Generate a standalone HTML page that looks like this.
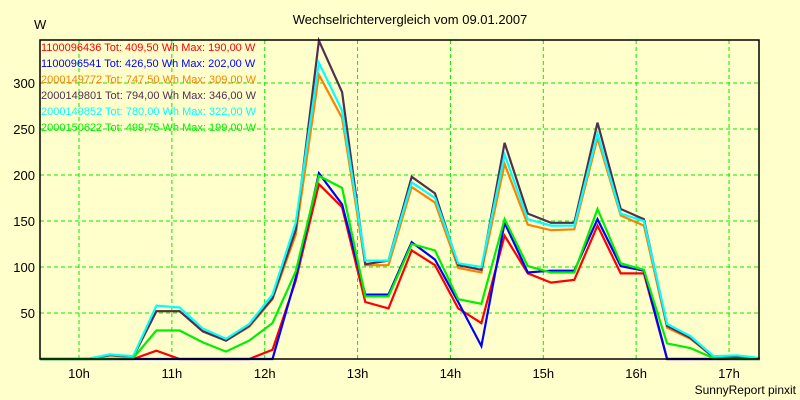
<!DOCTYPE html>
<html><head><meta charset="utf-8"><style>
body{margin:0;background:#ffffcc;}
svg{display:block;font-family:"Liberation Sans",sans-serif;}
</style></head><body>
<svg id="chart" width="800" height="400">
<rect x="0" y="0" width="800" height="400" fill="#ffffcc"/>
<text x="410" y="24" font-size="13" text-anchor="middle">Wechselrichtervergleich vom 09.01.2007</text>
<text x="34" y="29" font-size="13">W</text>
<text x="796" y="394" font-size="12" text-anchor="end">SunnyReport pinxit</text>
<g id="grid"></g>
<g id="series"></g>
<rect x="40" y="40" width="719" height="319" fill="none" stroke="#000" stroke-width="1.5"/>
<g id="axes"></g>
<g id="legend"></g>
</svg>
<script>
const times=[9.5833,9.8333,10.0833,10.3333,10.5833,10.8333,11.0833,11.3333,11.5833,11.8333,12.0833,12.3333,12.5833,12.8333,13.0833,13.3333,13.5833,13.8333,14.0833,14.3333,14.5833,14.8333,15.0833,15.3333,15.5833,15.8333,16.0833,16.3333,16.5833,16.8333,17.0833,17.3333];
const xTicks=[10,11,12,13,14,15,16,17];
const xTickLabels=["10h","11h","12h","13h","14h","15h","16h","17h"];
const yTicks=[50,100,150,200,250,300];
const seriesNames=["1100096436 Tot: 409,50 Wh Max: 190,00 W","1100096541 Tot: 426,50 Wh Max: 202,00 W","2000149772 Tot: 747,50 Wh Max: 309,00 W","2000149801 Tot: 794,00 Wh Max: 346,00 W","2000149852 Tot: 780,00 Wh Max: 322,00 W","2000150622 Tot: 499,75 Wh Max: 199,00 W"];
const seriesColors=["#ff0000","#0000ff","#ff8000","#503050","#00ffff","#00ee00"];
const red=[0,0,0,0,0,9,0,0,0,0,10,85,190,165,62,55,118,102,55,39,134,93,83,86,145,93,93,0,0,0,0,0];
const blue=[0,0,0,0,0,0,0,0,0,0,0,88,202,168,70,70,127,108,62,14,148,94,96,96,152,101,96,0,0,0,0,0];
const orange=[0,0,0,4,2,52,52,31,20,35,65,135,309,262,102,102,187,170,99,94,212,146,140,141,240,156,145,34,22,2,2,0];
const dark=[0,0,0,4,3,52,52,30,20,36,66,140,346,290,103,107,198,180,102,97,235,158,148,148,257,163,152,36,23,2,2,0];
const cyan=[0,0,0,5,3,58,56,33,22,38,70,148,322,270,107,107,192,175,104,100,222,152,145,145,245,158,150,38,25,3,4,1];
const green=[0,0,0,0,1,31,31,18,8,20,39,95,199,186,68,68,125,118,65,60,152,101,94,94,163,104,97,17,12,1,0,0];
const allSeries=[red,blue,orange,dark,cyan,green];
const NS="http://www.w3.org/2000/svg";
const X=t=>79+(t-10)*92.86;
const Y=v=>359-v*0.92;
function mk(tag,attrs,parent){const e=document.createElementNS(NS,tag);for(const k in attrs)e.setAttribute(k,attrs[k]);parent.appendChild(e);return e;}
const grid=document.getElementById('grid'),axes=document.getElementById('axes');
yTicks.forEach(v=>{
 const l=mk('line',{x1:40,x2:759,y1:Y(v),y2:Y(v),stroke:'#00ee00','stroke-dasharray':'4,3'},grid);
 
 
 const t=mk('text',{x:35,y:Y(v)+5,'font-size':13,'text-anchor':'end'},axes);t.textContent=v;
 
 
});
xTicks.forEach((h,i)=>{
 const l=mk('line',{x1:X(h),x2:X(h),y1:40,y2:359,stroke:'#00ee00','stroke-dasharray':'4,3'},grid);
 
 
 const t=mk('text',{x:X(h),y:378,'font-size':13,'text-anchor':'middle'},axes);t.textContent=xTickLabels[i];
 
 
});
const sg=document.getElementById('series');
allSeries.forEach((s,i)=>{
 const pts=s.map((v,j)=>X(times[j]).toFixed(1)+','+Y(v).toFixed(1)).join(' ');
 const p=mk('polyline',{points:pts,fill:'none',stroke:seriesColors[i],'stroke-width':2.2,'stroke-linejoin':'miter'},sg);
 
 
});
const lg=document.getElementById('legend');
seriesNames.forEach((n,i)=>{
 const t=mk('text',{x:41,y:51+i*16,'font-size':11,fill:seriesColors[i]},lg);t.textContent=n;
 
 
});
</script>
</body></html>
